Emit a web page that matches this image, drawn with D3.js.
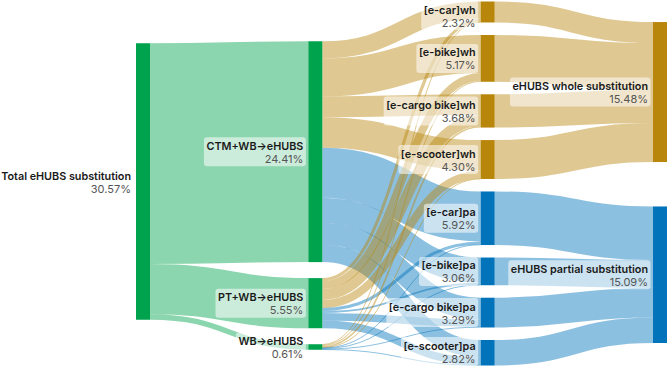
<!DOCTYPE html>
<html><head><meta charset="utf-8">
<script src="https://cdn.jsdelivr.net/npm/d3@7"></script>
<style>body{margin:0;background:#fff;} svg{display:block;font-family:Inter,"Noto Sans",sans-serif;}</style>
</head><body><svg id="c" width="669" height="367"></svg>
<script>
// ---- data ----
const rootName = "Total eHUBS substitution";
const accessNames = ["CTM+WB→eHUBS", "PT+WB→eHUBS", "WB→eHUBS"];
const modeNames = ["[e-car]wh", "[e-bike]wh", "[e-cargo bike]wh", "[e-scooter]wh",
                   "[e-car]pa", "[e-bike]pa", "[e-cargo bike]pa", "[e-scooter]pa"];
const modeGroup = ["wh", "wh", "wh", "wh", "pa", "pa", "pa", "pa"];
const outcomeNames = ["eHUBS whole substitution", "eHUBS partial substitution"];
const outcomeGroup = ["wh", "pa"];
// flows from each access node to the 8 mode nodes (%)
const ctmValues = [1.90, 4.20, 2.30, 3.38, 5.52, 2.80, 2.39, 1.92];
const ptValues  = [0.34, 0.87, 1.20, 0.90, 0.34, 0.20, 0.84, 0.85];
const wbValues  = [0.08, 0.10, 0.18, 0.02, 0.06, 0.06, 0.06, 0.05];
// printed labels
const rootLabel = "30.57%";
const accessLabels = ["24.41%", "5.55%", "0.61%"];
const modeLabels = ["2.32%", "5.17%", "3.68%", "4.30%", "5.92%", "3.06%", "3.29%", "2.82%"];
const outcomeLabels = ["15.48%", "15.09%"];

// ---- build graph ----
const colors = {g: "#00a34d", wh: "#b8860b", pa: "#0073bb"};
const nodes = [];
const addNode = (name, label, col, group) => { const n = {name, label, col, group, sourceLinks: [], targetLinks: []}; nodes.push(n); return n; };
const root = addNode(rootName, rootLabel, 0, "g");
const access = accessNames.map((n, i) => addNode(n, accessLabels[i], 1, "g"));
const modes = modeNames.map((n, i) => addNode(n, modeLabels[i], 2, modeGroup[i]));
const outcomes = outcomeNames.map((n, i) => addNode(n, outcomeLabels[i], 3, outcomeGroup[i]));
const links = [];
const addLink = (s, t, v, color) => { if (v <= 0) return; const l = {source: s, target: t, value: v, color}; links.push(l); s.sourceLinks.push(l); t.targetLinks.push(l); };
const accessValues = [ctmValues, ptValues, wbValues];
access.forEach((a, i) => addLink(root, a, d3.sum(accessValues[i]), colors.g));
access.forEach((a, i) => accessValues[i].forEach((v, j) => addLink(a, modes[j], v, colors[modeGroup[j]])));
modes.forEach((m, j) => { const tot = d3.sum(accessValues, r => r[j]); addLink(m, outcomes[modeGroup[j] === "wh" ? 0 : 1], tot, colors[modeGroup[j]]); });
nodes.forEach(n => n.value = Math.max(d3.sum(n.sourceLinks, l => l.value), d3.sum(n.targetLinks, l => l.value)));

// ---- layout ----
const W = 669, H = 367, nodeW = 14;
const yTop = 1.5, yBot = 365.5, padMode = 12.5, padAccess = 16;
const colX = d3.scaleLinear().domain([0, 3]).range([136, 653]);
const cols = d3.groups(nodes, d => d.col).map(d => d[1]);
const ky = d3.min(cols, c => (yBot - yTop - (c.length - 1) * padMode) / d3.sum(c, n => n.value));
const y = d3.scaleLinear().domain([0, 1]).range([0, ky]);
nodes.forEach(n => { n.x0 = colX(n.col); n.x1 = n.x0 + nodeW; n.h = y(n.value); });
// column 2: stacked
let yy = yTop; modes.forEach(n => { n.y0 = yy; n.y1 = yy + n.h; yy = n.y1 + padMode; });
// column 0: centred
root.y0 = (yTop + yBot) / 2 - 2 - root.h / 2; root.y1 = root.y0 + root.h;
// column 1: stacked from root top
yy = root.y0 - 2; access.forEach(n => { n.y0 = yy; n.y1 = yy + n.h; yy = n.y1 + padAccess; });
// column 3: weighted centre of inputs
outcomes.forEach(n => { const c = d3.sum(n.targetLinks, l => l.value * (l.source.y0 + l.source.y1) / 2) / d3.sum(n.targetLinks, l => l.value); n.y0 = c - n.h / 2; n.y1 = n.y0 + n.h; });
// link positions
nodes.forEach(n => {
  n.sourceLinks.sort((a, b) => a.target.y0 - b.target.y0);
  n.targetLinks.sort((a, b) => a.source.y0 - b.source.y0);
  let s = n.y0; n.sourceLinks.forEach(l => { l.width = y(l.value); l.y0 = s + l.width / 2; s += l.width; });
  let t = n.y0; n.targetLinks.forEach(l => { l.width = y(l.value); l.y1 = t + l.width / 2; t += l.width; });
});

// ---- draw ----
const svg = d3.select("#c");
const linkGen = d3.linkHorizontal().source(d => [d.source.x1, d.y0]).target(d => [d.target.x0, d.y1]);
svg.append("g").attr("fill", "none").selectAll("path").data(links).join("path")
  .attr("d", linkGen).attr("stroke", d => d.color).attr("stroke-opacity", 0.45)
  .attr("stroke-width", d => Math.max(1, d.width));
svg.append("g").selectAll("rect").data(nodes).join("rect")
  .attr("x", d => d.x0).attr("y", d => d.y0).attr("width", nodeW).attr("height", d => d.y1 - d.y0)
  .attr("fill", d => colors[d.group]);
const lab = svg.append("g").selectAll("g").data(nodes).join("g");
lab.each(function(d) {
  const g = d3.select(this);
  const right = d.x0 - 2.5, boxH = 29;
  let top = (d.y0 + d.y1) / 2 - boxH / 2;
  top = Math.max(1, Math.min(H - boxH - 1, top));
  const rect = g.append("rect");
  const t1 = g.append("text").attr("x", right - 2.5).attr("y", top + 12.5).attr("text-anchor", "end")
    .attr("font-size", 10.8).attr("font-weight", 600).attr("fill", "#1a1a1a").text(d.name);
  const t2 = g.append("text").attr("x", right - 2.5).attr("y", top + 25.5).attr("text-anchor", "end")
    .attr("font-size", 11).attr("fill", "#555").text(d.label);
  const w = Math.max(t1.node().getComputedTextLength(), t2.node().getComputedTextLength()) + 5;
  rect.attr("x", right - w).attr("y", top).attr("width", w).attr("height", boxH).attr("rx", 3)
    .attr("fill", "#fff").attr("fill-opacity", 0.55);
});
</script></body></html>
